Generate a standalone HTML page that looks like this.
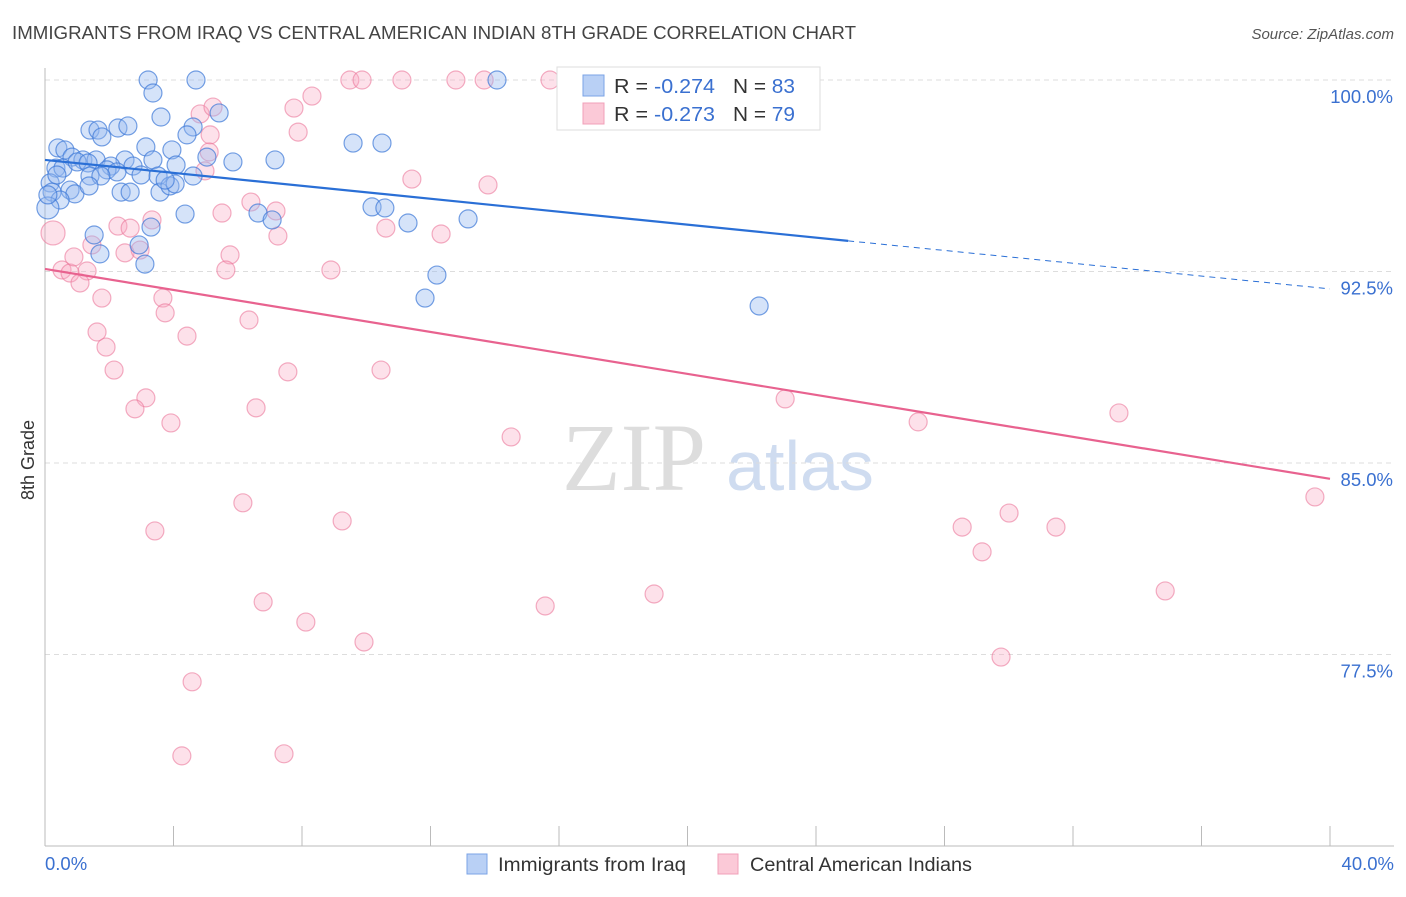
<!DOCTYPE html>
<html><head><meta charset="utf-8">
<style>
body{margin:0;background:#fff;font-family:"Liberation Sans",sans-serif;}
svg text{font-family:"Liberation Sans",sans-serif;}
</style></head>
<body>
<svg id="chart" width="1406" height="892" xmlns="http://www.w3.org/2000/svg">
<text x="12" y="39" font-size="18" fill="#444" textLength="844" lengthAdjust="spacingAndGlyphs">IMMIGRANTS FROM IRAQ VS CENTRAL AMERICAN INDIAN 8TH GRADE CORRELATION CHART</text>
<text x="1394" y="39" font-size="15" fill="#555" font-style="italic" text-anchor="end">Source: ZipAtlas.com</text>
<text transform="translate(34,460) rotate(-90)" font-size="18" fill="#333" text-anchor="middle">8th Grade</text>
<g>
<text x="634" y="490" font-size="96" fill="#ddd" text-anchor="middle" style="font-family:'Liberation Serif',serif">ZIP</text>
<text x="800" y="490" font-size="70" fill="#cfdcf0" text-anchor="middle">atlas</text>
</g>
<g id="grid"></g>
<g id="axes"></g>
<g id="points"></g>
<g id="lines"></g>
<g>
<rect x="557" y="67" width="263" height="63" fill="#fff" stroke="#ddd"/>
<rect x="583" y="75" width="21" height="21" fill="#b9d0f5" stroke="#7ba3e6"/>
<rect x="583" y="103" width="21" height="21" fill="#fbc9d7" stroke="#f0a0b8"/>
<text x="614" y="93" font-size="20" fill="#333" textLength="101" lengthAdjust="spacingAndGlyphs">R = <tspan fill="#3a70d0">-0.274</tspan></text>
<text x="733" y="93" font-size="20" fill="#333" textLength="62" lengthAdjust="spacingAndGlyphs">N = <tspan fill="#3a70d0">83</tspan></text>
<text x="614" y="121" font-size="20" fill="#333" textLength="101" lengthAdjust="spacingAndGlyphs">R = <tspan fill="#3a70d0">-0.273</tspan></text>
<text x="733" y="121" font-size="20" fill="#333" textLength="62" lengthAdjust="spacingAndGlyphs">N = <tspan fill="#3a70d0">79</tspan></text>
</g>
<g>
<rect x="467" y="854" width="20" height="20" fill="#b9d0f5" stroke="#7ba3e6"/>
<text x="498" y="871" font-size="19" fill="#333" textLength="188" lengthAdjust="spacingAndGlyphs">Immigrants from Iraq</text>
<rect x="718" y="854" width="20" height="20" fill="#fbc9d7" stroke="#f0a0b8"/>
<text x="750" y="871" font-size="19" fill="#333" textLength="222" lengthAdjust="spacingAndGlyphs">Central American Indians</text>
</g>
</svg>
<script>
const yTicks=[100,92.5,85,77.5];
const yTickLabels=["100.0%","92.5%","85.0%","77.5%"];
const xTickLabels=["0.0%","40.0%"];
const blueX=[3.21,4.70,14.07,3.36,3.61,5.42,1.40,1.65,2.27,2.58,4.61,4.42,1.77,0.40,0.62,3.14,3.95,5.04,2.49,3.36,0.84,1.18,1.59,0.34,0.56,1.00,1.34,2.05,2.74,1.93,2.24,2.99,3.52,4.08,4.61,5.85,7.16,9.59,10.49,0.16,0.22,0.78,0.93,0.47,0.09,2.37,2.65,3.58,3.89,4.05,3.74,4.36,6.63,7.07,10.18,10.58,11.30,13.17,1.53,2.93,1.71,3.11,3.30,12.20,11.83,22.23,0.37,1.40,1.74,0.09,1.37];
const blueY=[100,100,100,99.49,98.55,98.71,98.04,98.04,98.12,98.20,98.16,97.85,97.77,97.34,97.26,97.38,97.26,96.98,96.87,96.87,96.98,96.87,96.87,96.55,96.55,96.79,96.75,96.63,96.63,96.48,96.40,96.28,96.24,96.67,96.24,96.79,96.87,97.53,97.53,95.97,95.61,95.69,95.54,95.30,94.99,95.61,95.61,95.61,95.85,95.93,96.08,94.75,94.79,94.52,95.03,94.99,94.40,94.56,93.93,93.54,93.19,92.79,94.24,92.36,91.46,91.15,96.28,96.24,96.24,95.50,95.85];
const pinkX=[0.25,0.53,0.78,0.90,1.31,1.09,1.46,2.27,2.65,2.49,2.96,3.33,3.67,3.74,1.77,1.62,1.90,4.42,2.15,3.14,2.80,3.92,3.42,4.58,4.26,4.83,5.23,5.14,4.98,5.11,5.51,5.76,5.63,6.41,7.19,7.25,6.35,6.57,6.16,6.79,7.56,7.44,8.12,7.75,7.88,8.31,8.90,9.25,9.49,9.87,9.93,10.61,10.46,11.11,11.42,12.33,12.79,13.67,13.79,14.51,15.57,15.72,18.15,18.96,22.26,23.04,27.18,28.55,29.17,29.76,30.01,31.47,33.43,34.87,39.53];
const pinkY=[94.01,92.56,92.44,93.07,92.52,92.05,93.54,94.28,94.20,93.23,93.34,94.52,91.46,90.88,91.46,90.13,89.54,89.97,88.64,87.55,87.12,86.57,82.34,76.43,73.53,98.67,98.94,97.85,96.44,97.18,94.79,93.15,92.56,95.22,94.87,93.89,90.60,87.16,83.44,79.56,88.57,73.61,78.77,98.90,97.96,99.37,92.56,82.73,100,100,77.99,94.20,88.64,100,96.12,93.97,100,100,95.89,86.02,79.40,100,100,79.87,100,87.51,86.61,82.49,81.52,77.40,83.04,82.49,86.96,79.99,83.67];
const blueTrend=[[0,96.87],[25,93.70],[40,91.82]];
const pinkTrend=[[0,92.60],[40,84.38]];

const NS="http://www.w3.org/2000/svg";
const X=v=>45+v/40*1285;
const Y=v=>80+(100-v)/7.5*191.5;
function mk(tag,attrs,parent){const e=document.createElementNS(NS,tag);for(const k in attrs)e.setAttribute(k,attrs[k]);parent.appendChild(e);return e;}
const grid=document.getElementById('grid'),axes=document.getElementById('axes'),pts=document.getElementById('points'),lines=document.getElementById('lines');
yTicks.forEach((t,i)=>{
 const g=mk('line',{x1:45,x2:1394,y1:Y(t),y2:Y(t),stroke:'#ddd','stroke-dasharray':'5,4'},grid);
 
 
 const tx=mk('text',{x:1393,y:Y(t)+23,'font-size':18.5,fill:'#3a70d0','text-anchor':'end'},axes);
 tx.textContent=yTickLabels[i];
 
 
});
const ya=mk('line',{x1:45,x2:45,y1:68,y2:846,stroke:'#bbb'},axes);


const xa=mk('line',{x1:45,x2:1394,y1:846,y2:846,stroke:'#bbb'},axes);


for(let k=0;k<=10;k++){
 const t=mk('line',{x1:X(k*4),x2:X(k*4),y1:826,y2:846,stroke:'#bbb'},axes);
 
 
}
[[0,'start',45],[40,'end',1394]].forEach((d,i)=>{
 const tx=mk('text',{x:d[2],y:870,'font-size':18.5,fill:'#3a70d0','text-anchor':d[1]},axes);
 tx.textContent=xTickLabels[i];
 
 
});
pinkX.forEach((x,i)=>{
 const c=mk('circle',{cx:X(x),cy:Y(pinkY[i]),r:i==0?12:9,fill:'rgba(248,170,195,0.35)',stroke:'rgba(235,120,155,0.6)','stroke-width':1.2},pts);
 
 
});
blueX.forEach((x,i)=>{
 const c=mk('circle',{cx:X(x),cy:Y(blueY[i]),r:i==44?11:9,fill:'rgba(150,185,240,0.4)',stroke:'rgba(60,120,215,0.7)','stroke-width':1.2},pts);
 
 
});
const b1=mk('line',{x1:X(blueTrend[0][0]),y1:Y(blueTrend[0][1]),x2:X(blueTrend[1][0]),y2:Y(blueTrend[1][1]),stroke:'#2a6fd6','stroke-width':2.2},lines);


const b2=mk('line',{x1:X(blueTrend[1][0]),y1:Y(blueTrend[1][1]),x2:X(blueTrend[2][0]),y2:Y(blueTrend[2][1]),stroke:'#2a6fd6','stroke-width':1,'stroke-dasharray':'6,5'},lines);


const p1=mk('line',{x1:X(pinkTrend[0][0]),y1:Y(pinkTrend[0][1]),x2:X(pinkTrend[1][0]),y2:Y(pinkTrend[1][1]),stroke:'#e8628f','stroke-width':2.2},lines);


</script>
</body></html>
